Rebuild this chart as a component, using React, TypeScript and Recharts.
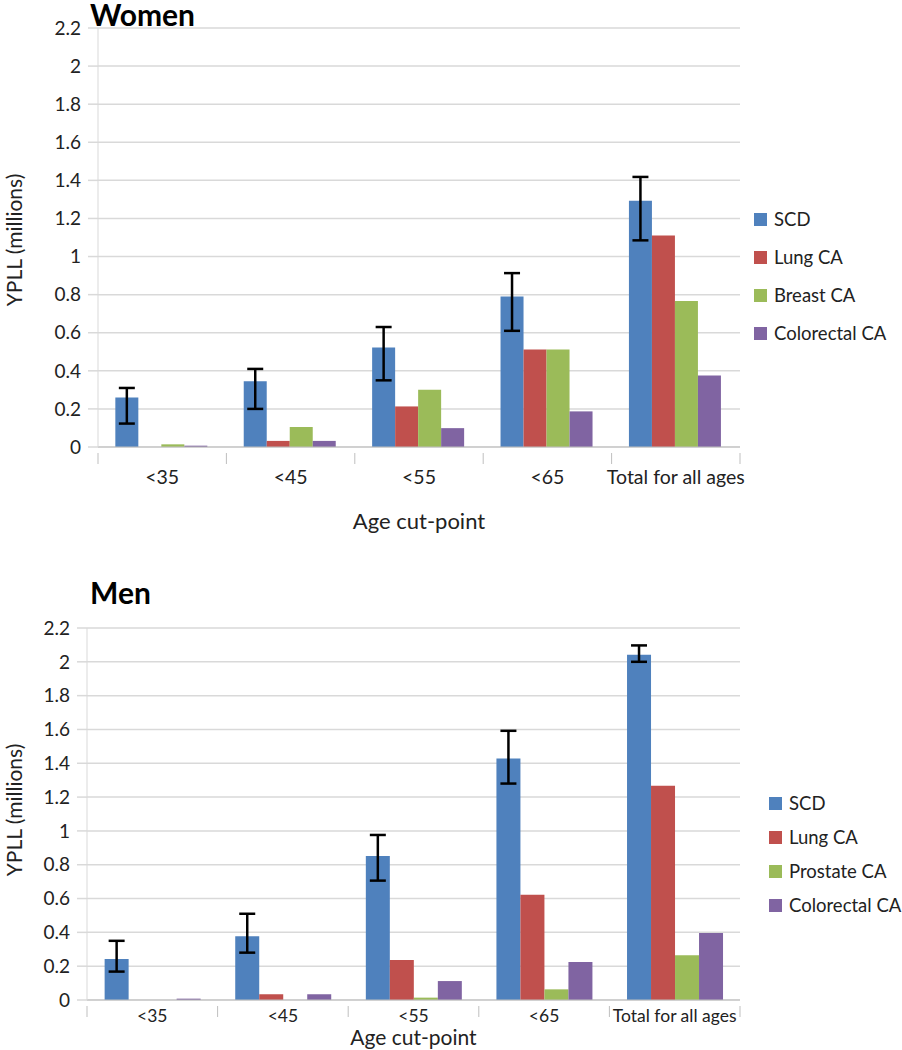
import React from 'react';
import { BarChart, Bar, XAxis, YAxis, CartesianGrid, ErrorBar, Legend, Label } from 'recharts';

const categories = ['<35', '<45', '<55', '<65', 'Total for all ages'];
const yTicks = [0, 0.2, 0.4, 0.6, 0.8, 1, 1.2, 1.4, 1.6, 1.8, 2, 2.2];

const womenScd = [0.26, 0.345, 0.523, 0.79, 1.293];
const womenScdLow = [0.123, 0.2, 0.35, 0.61, 1.085];
const womenScdHigh = [0.31, 0.41, 0.63, 0.913, 1.418];
const womenLung = [0, 0.032, 0.213, 0.512, 1.111];
const womenBreast = [0.014, 0.105, 0.3, 0.512, 0.766];
const womenColorectal = [0.007, 0.032, 0.099, 0.187, 0.375];

const menScd = [0.243, 0.377, 0.852, 1.428, 2.042];
const menScdLow = [0.168, 0.28, 0.706, 1.28, 2.0];
const menScdHigh = [0.35, 0.51, 0.976, 1.592, 2.097];
const menLung = [0, 0.034, 0.237, 0.623, 1.267];
const menProstate = [0, 0, 0.014, 0.063, 0.264];
const menColorectal = [0.008, 0.034, 0.112, 0.225, 0.396];

const COLORS = {
  scd: '#4F81BD',
  lung: '#C0504D',
  third: '#9BBB59',
  colorectal: '#8064A2',
};

const FONT = 'Lato, "Open Sans", sans-serif';
const CHART_W = 902;
const RIGHT = 162;

function buildRows(scd: number[], low: number[], high: number[], lung: number[], third: number[], colo: number[]) {
  return categories.map((c, i) => ({
    cat: c,
    scd: scd[i],
    err: [scd[i] - low[i], high[i] - scd[i]],
    lung: lung[i],
    third: third[i],
    colorectal: colo[i],
  }));
}

const womenRows = buildRows(womenScd, womenScdLow, womenScdHigh, womenLung, womenBreast, womenColorectal);
const menRows = buildRows(menScd, menScdLow, menScdHigh, menLung, menProstate, menColorectal);

// x tick: label plus the little separator marks between categories
function makeTick(catWidth: number, fontSize: number, dy: number) {
  return (props: any) => {
    const { x, y, payload, index } = props;
    const half = catWidth / 2;
    return (
      <g>
        <line x1={x - half} y1={y - 2} x2={x - half} y2={y + 9} stroke="#bfbfbf" />
        {index === categories.length - 1 && (
          <line x1={x + half} y1={y - 2} x2={x + half} y2={y + 9} stroke="#bfbfbf" />
        )}
        <text x={x} y={y + dy} textAnchor="middle" fontSize={fontSize} fill="#222" fontFamily={FONT}>
          {payload.value}
        </text>
      </g>
    );
  };
}

function makeLegend(names: string[], gap: number, fontSize: number) {
  const colors = [COLORS.scd, COLORS.lung, COLORS.third, COLORS.colorectal];
  return () => (
    <div style={{ fontFamily: FONT, fontSize, color: '#222' }}>
      {names.map((n, i) => (
        <div key={n} style={{ display: 'flex', alignItems: 'center', height: gap, whiteSpace: 'nowrap' }}>
          <span style={{ width: 13, height: 13, background: colors[i], display: 'inline-block', marginRight: 7 }} />
          {n}
        </div>
      ))}
    </div>
  );
}

function Panel(props: {
  rows: any[];
  thirdName: string;
  height: number;
  top: number;
  left: number;
  xAxisHeight: number;
  tickFont: number;
  tickDy: number;
  legendTop: number;
  legendLeft: number;
  legendGap: number;
  legendFont: number;
  labelOffset: number;
  labelFont: number;
}) {
  const plotW = CHART_W - RIGHT - props.left;
  const catW = plotW / categories.length;
  const names = ['SCD', 'Lung CA', props.thirdName, 'Colorectal CA'];
  return (
    <BarChart
      width={CHART_W}
      height={props.height}
      data={props.rows}
      margin={{ top: props.top, right: RIGHT, left: 0, bottom: 0 }}
      barCategoryGap="13.5%"
      barGap={0}
    >
      <CartesianGrid vertical={false} stroke="#d9d9d9" strokeWidth={1.5} />
      <XAxis
        dataKey="cat"
        stroke="#bfbfbf"
        tickLine={false}
        height={props.xAxisHeight}
        interval={0}
        tick={makeTick(catW, props.tickFont, props.tickDy)}
      >
        <Label
          value="Age cut-point"
          position="insideBottom"
          offset={props.labelOffset}
          style={{ fontFamily: FONT, fontSize: props.labelFont, fill: '#222' }}
        />
      </XAxis>
      <YAxis
        width={props.left}
        domain={[0, 2.2]}
        ticks={yTicks}
        interval={0}
        stroke="#d9d9d9"
        tickLine={{ stroke: '#d9d9d9', strokeWidth: 1.5 }}
        tickSize={10}
        tickMargin={7}
        tick={{ fontSize: 19, fill: '#222', fontFamily: FONT }}
        tickFormatter={(v: number) => String(Math.round(v * 10) / 10)}
      />
      <Legend
        layout="vertical"
        align="center"
        verticalAlign="middle"
        content={makeLegend(names, props.legendGap, props.legendFont)}
        wrapperStyle={{ top: props.legendTop, left: props.legendLeft, width: 160 }}
      />
      <Bar dataKey="scd" name="SCD" fill={COLORS.scd} isAnimationActive={false}>
        <ErrorBar dataKey="err" width={8} stroke="#000" strokeWidth={2.5} direction="y" />
      </Bar>
      <Bar dataKey="lung" name="Lung CA" fill={COLORS.lung} isAnimationActive={false} />
      <Bar dataKey="third" name={props.thirdName} fill={COLORS.third} isAnimationActive={false} />
      <Bar dataKey="colorectal" name="Colorectal CA" fill={COLORS.colorectal} isAnimationActive={false} />
    </BarChart>
  );
}

const titleStyle: React.CSSProperties = {
  position: 'absolute',
  left: 90,
  zIndex: 2,
  fontFamily: FONT,
  fontWeight: 'bold',
  fontSize: 30,
  color: '#000',
  lineHeight: 'normal',
};

const yLabelStyle: React.CSSProperties = {
  position: 'absolute',
  width: 200,
  textAlign: 'center',
  fontFamily: FONT,
  fontSize: 21,
  color: '#222',
  transform: 'rotate(-90deg)',
  lineHeight: '24px',
  whiteSpace: 'nowrap',
};

export default function App() {
  return (
    <div style={{ position: 'absolute', left: 0, top: 0, width: 902, height: 1050, background: '#fff' }}>
      <div style={{ ...yLabelStyle, left: 14 - 100, top: 240 - 12 }}>YPLL (millions)</div>
      <div style={{ position: 'absolute', left: 0, top: 0 }}>
        <Panel
          rows={womenRows}
          thirdName="Breast CA"
          height={535}
          top={28}
          left={98}
          xAxisHeight={88}
          tickFont={19.5}
          tickDy={29}
          legendTop={200}
          legendLeft={754}
          legendGap={38}
          legendFont={18.5}
          labelOffset={6}
          labelFont={22}
        />
      </div>
      <div style={{ ...titleStyle, top: -4 }}>Women</div>
      <div style={{ ...yLabelStyle, left: 14 - 100, top: 810 - 12 }}>YPLL (millions)</div>
      <div style={{ position: 'absolute', left: 0, top: 560 }}>
        <Panel
          rows={menRows}
          thirdName="Prostate CA"
          height={490}
          top={68}
          left={87}
          xAxisHeight={50}
          tickFont={17.5}
          tickDy={14}
          legendTop={226}
          legendLeft={769}
          legendGap={34}
          legendFont={18.5}
          labelOffset={5}
          labelFont={21}
        />
      </div>
      <div style={{ ...titleStyle, top: 574 }}>Men</div>
    </div>
  );
}
